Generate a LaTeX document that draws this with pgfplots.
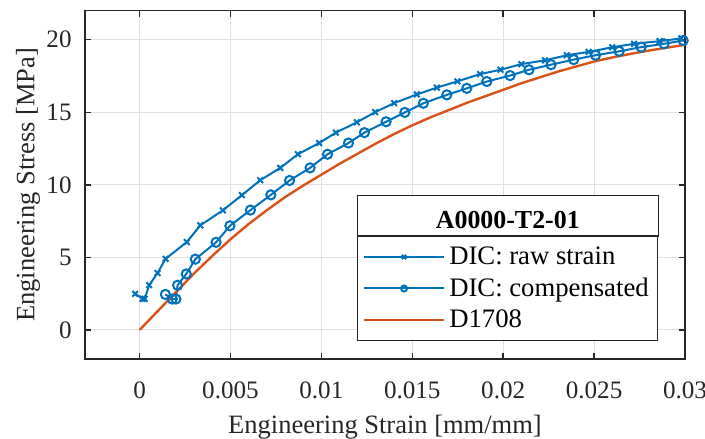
\documentclass[border=0pt]{standalone}
\usepackage{fontspec}
\setmainfont{Liberation Serif}
\usepackage{pgfplots}
\pgfplotsset{compat=1.18}
\definecolor{mblue}{HTML}{0072BD}
\definecolor{morange}{HTML}{D95319}
\definecolor{axgray}{HTML}{262626}

\begin{document}
\begin{tikzpicture}
\begin{axis}[
  name=ax,
  scale only axis, width=300bp, height=174.15bp,
  xmin=-0.003, xmax=0.03, ymin=-2, ymax=22,
  xtick={0,0.005,0.01,0.015,0.02,0.025,0.03},
  xticklabels={0,0.005,0.01,0.015,0.02,0.025,0.03},
  ytick={0,5,10,15,20},
  scaled x ticks=false,
  tick align=inside,
  major tick length=3bp,
  grid=major,
  grid style={line width=0.5bp, color=black!12},
  axis line style={line width=0.7bp, color=axgray},
  tick style={line width=0.7bp, color=axgray},
  ticklabel style={font=\fontsize{12.6}{14}\selectfont, text=axgray},
  /pgf/number format/assume math mode=true,
  xticklabel style={anchor=base, yshift=-19.5bp, inner sep=0pt},
  yticklabel style={anchor=east, xshift=-6.5bp, inner sep=0pt},
  xlabel={Engineering Strain [mm/mm]},
  ylabel={Engineering Stress [MPa]},
  label style={font=\fontsize{13.3}{15}\selectfont, text=axgray},
  xlabel style={at={(axis description cs:0.5,-0.2142)}, anchor=base, inner sep=0pt},
  ylabel style={at={(axis description cs:-0.095,0.5)}, anchor=center, rotate=0, inner sep=0pt},
  legend style={name=leg, at={(0.4538,0.0517)}, anchor=south west, draw=axgray,
    line width=0.6bp, fill=white, font=\fontsize{13.4}{15}\selectfont,
    inner xsep=2.5bp, inner ysep=3bp, row sep=1.2bp, nodes={inner sep=2bp}},
  legend cell align=left,
  legend image code/.code={\draw[mark repeat=2,mark phase=2,#1] plot coordinates {(0bp,0bp) (20bp,0bp) (40bp,0bp)};},
  every legend image post/.style={mark size=1.5bp},
]
\addplot[mblue, line width=1bp, mark=x, mark size=2bp] coordinates {
(-0.00024,2.49) (0.00017,2.15) (0.00028,2.15) (0.00053,3.09) (0.00099,3.92)
(0.00143,4.90) (0.0026,6.06) (0.00334,7.21) (0.00458,8.24) (0.00563,9.29)
(0.00664,10.32) (0.00774,11.17) (0.00871,12.11) (0.00988,12.88) (0.0108,13.6)
(0.01195,14.31) (0.01296,15.01) (0.014,15.63) (0.01525,16.23) (0.01635,16.7)
(0.01748,17.13) (0.01873,17.63) (0.01985,17.93) (0.021,18.32) (0.0223,18.58)
(0.0235,18.93) (0.0247,19.16) (0.026,19.48) (0.0272,19.72) (0.0286,19.9)
(0.0298,20.09)
};
\addlegendentry{DIC: raw strain}
\addplot[mblue, line width=1bp, mark=o, mark size=2.3bp] coordinates {
(0.00142,2.45) (0.0018,2.13) (0.0020,2.13) (0.00209,3.08) (0.00257,3.86)
(0.00307,4.88) (0.00421,6.04) (0.00497,7.18) (0.0061,8.26) (0.00722,9.31)
(0.00825,10.3) (0.00938,11.17) (0.01034,12.11) (0.01149,12.88) (0.01237,13.6)
(0.01356,14.35) (0.01459,14.99) (0.01561,15.62) (0.0169,16.2) (0.018,16.65)
(0.0191,17.12) (0.02038,17.53) (0.02142,17.93) (0.02263,18.28) (0.02388,18.63)
(0.02508,18.93) (0.02638,19.2) (0.02759,19.49) (0.02885,19.72) (0.0299,19.95)
};
\addlegendentry{DIC: compensated}
\addplot[morange, line width=1.2bp] coordinates {
(0,0) (0.001,1.3) (0.002,2.6) (0.003,3.9) (0.004,5.1) (0.005,6.25)
(0.006,7.3) (0.007,8.25) (0.008,9.15) (0.009,9.95) (0.010,10.7)
(0.011,11.45) (0.012,12.15) (0.013,12.85) (0.014,13.5) (0.015,14.1)
(0.016,14.65) (0.017,15.15) (0.018,15.65) (0.019,16.1) (0.020,16.55)
(0.021,17.0) (0.022,17.4) (0.023,17.8) (0.024,18.15) (0.025,18.5)
(0.026,18.78) (0.027,19.02) (0.028,19.25) (0.029,19.45) (0.030,19.65)
};
\addlegendentry{D1708}
\end{axis}
\filldraw[fill=white, draw=axgray, line width=0.6bp] (leg.north west) rectangle ([yshift=20.35bp]leg.north east);
\node[font=\fontsize{13}{15}\selectfont\bfseries, inner sep=0pt] at ([yshift=8.25bp]leg.north) {A0000-T2-01};
\pgfresetboundingbox
\path[use as bounding box] ([xshift=-42.5bp,yshift=-40bp]ax.south west) rectangle ([xshift=10bp,yshift=5.35bp]ax.north east);
\end{tikzpicture}
\end{document}
